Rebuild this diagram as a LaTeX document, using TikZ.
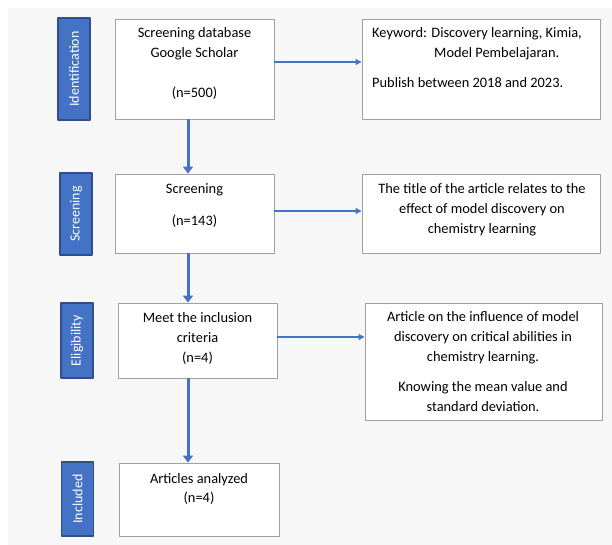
\documentclass[tikz,border=0pt]{standalone}
\usepackage{fontspec}
\setmainfont{Carlito}
\usetikzlibrary{arrows.meta}
\definecolor{prismablue}{HTML}{4472C4}
\definecolor{prismanavy}{HTML}{2F4F8A}
\definecolor{boxgray}{HTML}{A0A0A0}
\definecolor{pagegray}{HTML}{F7F7F7}
\begin{document}
\begin{tikzpicture}[x=1pt, y=-1pt, font=\fontsize{14.4}{20}\selectfont, line join=round,
  box/.style={draw=boxgray, line width=0.9pt, fill=white, inner sep=0pt},
  txt/.style={align=center, anchor=north, inner sep=0pt},
  phase/.style={draw=prismanavy, line width=1.6pt, fill=prismablue, text=white, inner sep=0pt, rotate=90, minimum height=32, font=\fontsize{14}{16}\selectfont},
  down/.style={draw=prismablue, line width=3pt, -{Triangle[length=7pt,width=10pt]}},
  side/.style={draw=prismablue, line width=1.4pt, -{Triangle[length=6pt,width=6pt]}}]
\useasboundingbox (0,0) rectangle (612,545);
\fill[pagegray] (8,8) rectangle (612,545);
% phases
\node[phase, minimum width=102] (pid) at (74,69) {Identification};
\node[phase, minimum width=82] (psc) at (76,214) {Screening};
\node[phase, minimum width=75] (pel) at (77,340.5) {Eligibility};
\node[phase, minimum width=74] (pin) at (77.5,499) {Included};
% main column (text top = first baseline - 14)
\node[box, minimum width=159, minimum height=100] (b1) at (194.5,69) {};
\node[box, minimum width=159, minimum height=79] (b2) at (194.5,213.5) {};
\node[box, minimum width=159, minimum height=75] (b3) at (197.5,340.5) {};
\node[box, minimum width=160, minimum height=73] (b4) at (199,499.5) {};
\node[txt] (t1) at (194.5,23.5) {\strut Screening database\\Google Scholar\\[20pt](n=500)};
\node[txt] (t2) at (194.5,179.5) {\strut Screening\\[12pt](n=143)};
\node[txt] (t3) at (197.5,308.5) {\strut Meet the inclusion\\criteria\\(n=4)};
\node[txt] (t4) at (199,469.5) {\strut Articles analyzed\\[-1pt](n=4)};
% criteria
\node[box, minimum width=238, minimum height=100] (r1) at (481,69) {};
\node[box, minimum width=238, minimum height=79] (r2) at (481,213.5) {};
\node[box, minimum width=237, minimum height=117] (r3) at (483.5,361.5) {};
\node[txt, align=left, anchor=north west] (s1) at (372,23.5) {\strut Keyword: Discovery learning, Kimia,\\\hspace*{62pt}Model Pembelajaran.\\[10pt]Publish between 2018 and 2023.};
\node[txt] (s2) at (482,179.5) {\strut The title of the article relates to the\\effect of model discovery on\\chemistry learning};
\node[txt] (s3) at (483,307.5) {\strut Article on the influence of model\\discovery on critical abilities in\\chemistry learning.\\[10pt]Knowing the mean value and\\standard deviation.};
% arrows
\coordinate (col) at (188,0);
\draw[down] (b1.south -| col) -- (b2.north -| col);
\draw[down] (b2.south -| col) -- (b3.north -| col);
\draw[down] (b3.south -| col) -- (b4.north -| col);
\draw[side] ([yshift=7pt]b1.east) -- ([yshift=7pt]b1.east -| r1.west);
\draw[side] ([yshift=2.5pt]b2.east) -- ([yshift=2.5pt]b2.east -| r2.west);
\draw[side] ([yshift=3.5pt]b3.east) -- ([yshift=3.5pt]b3.east -| r3.west);
\end{tikzpicture}
\end{document}
